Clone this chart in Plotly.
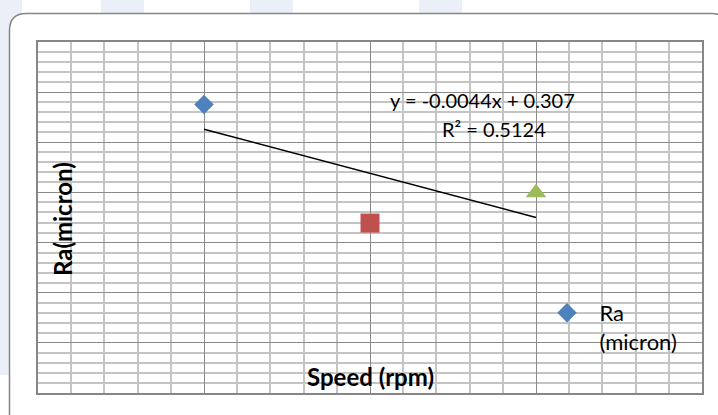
import numpy as np
import plotly.graph_objects as go

# ---- data ----
speed = [10, 20, 30]
ra = [0.28778, 0.16944, 0.19978]
point_symbols = ["diamond", "square", "triangle-up"]
point_colors = ["#4F81BD", "#C0504D", "#9BBB59"]
point_sizes = [15, 19, 18]
series_name = "Ra<br>(micron)"
x_title = "Speed (rpm)"
y_title = "Ra(micron)"

# trendline from a least-squares fit
slope, intercept = np.polyfit(speed, ra, 1)
pred = np.polyval([slope, intercept], speed)
r2 = 1 - np.sum((np.array(ra) - pred) ** 2) / np.sum((np.array(ra) - np.mean(ra)) ** 2)
eq_text = f"y = {slope:.4f}x + {intercept:.3f}"
r2_text = f"R² = {r2:.4f}"

# ---- geometry helpers (pixel -> paper) ----
W, H = 718, 415
ML, MR, MT, MB = 38, 16, 42, 22
PW, PH = W - ML - MR, H - MT - MB


def px(x):
    return (x - ML) / PW


def py(y):
    return (H - MB - y) / PH


fig = go.Figure()

for i in range(len(speed)):
    fig.add_trace(go.Scatter(
        x=[speed[i]], y=[ra[i]], mode="markers",
        name=series_name, showlegend=(i == 0), legendgroup="ra",
        marker=dict(symbol=point_symbols[i], color=point_colors[i],
                    size=point_sizes[i], line=dict(width=0)),
        hoverinfo="x+y",
    ))

xt = [min(speed), max(speed)]
fig.add_trace(go.Scatter(
    x=xt, y=list(np.polyval([slope, intercept], xt)), mode="lines",
    line=dict(color="black", width=1.5), showlegend=False, hoverinfo="skip",
))

# decorative background strips and rounded chart border
shapes = []
strip = "#EBF0F8"
for (a, b) in [(101, 144), (250, 293), (419, 462)]:
    shapes.append(dict(type="rect", xref="paper", yref="paper", layer="below",
                       x0=px(a), x1=px(b), y0=py(0), y1=py(14),
                       fillcolor=strip, line=dict(width=0)))
shapes.append(dict(type="rect", xref="paper", yref="paper", layer="below",
                   x0=px(0), x1=px(22), y0=py(0), y1=py(375),
                   fillcolor=strip, line=dict(width=0)))
x0, y0, x1, y1, r = 9.5, 13.5, 728, 432, 17
path = (f"M{px(x0)},{py(y0 + r)} Q{px(x0)},{py(y0)} {px(x0 + r)},{py(y0)} "
        f"L{px(x1 - r)},{py(y0)} Q{px(x1)},{py(y0)} {px(x1)},{py(y0 + r)} "
        f"L{px(x1)},{py(y1 - r)} Q{px(x1)},{py(y1)} {px(x1 - r)},{py(y1)} "
        f"L{px(x0 + r)},{py(y1)} Q{px(x0)},{py(y1)} {px(x0)},{py(y1 - r)} Z")
shapes.append(dict(type="path", xref="paper", yref="paper", layer="below",
                   path=path, fillcolor="white",
                   line=dict(color="#868686", width=1.5)))

font = "Lato, 'Open Sans', sans-serif"
annotations = [
    dict(text=eq_text, x=px(482), y=py(100), xref="paper", yref="paper",
         xanchor="center", yanchor="middle",
         showarrow=False, font=dict(family=font, size=20, color="black")),
    dict(text=r2_text, x=px(494), y=py(129), xref="paper", yref="paper",
         xanchor="center", yanchor="middle",
         showarrow=False, font=dict(family=font, size=20, color="black")),
    dict(text=f"<b>{y_title}</b>", x=px(62), y=py(219), xref="paper", yref="paper",
         xanchor="center", yanchor="middle",
         textangle=-90, showarrow=False, font=dict(family=font, size=24, color="black")),
    dict(text=f"<b>{x_title}</b>", x=px(370), y=py(376), xref="paper", yref="paper",
         xanchor="center", yanchor="middle",
         showarrow=False, font=dict(family=font, size=24, color="black")),
]

axis_common = dict(showticklabels=False, ticks="", zeroline=False,
                   showline=True, mirror=True, linecolor="#868686", linewidth=2,
                   showgrid=True, gridcolor="#8A8A8A", gridwidth=1)

fig.update_layout(
    width=W, height=H,
    margin=dict(l=ML, r=MR, t=MT, b=MB),
    paper_bgcolor="white", plot_bgcolor="rgba(0,0,0,0)",
    xaxis=dict(range=[0, 40], dtick=10, fixedrange=True,
               minor=dict(dtick=2, showgrid=True, gridcolor="#C4C4C4", gridwidth=1.5),
               **axis_common),
    yaxis=dict(range=[0, 0.35], dtick=0.05, fixedrange=True,
               minor=dict(dtick=0.01, showgrid=True, gridcolor="#C4C4C4", gridwidth=1.5),
               **axis_common),
    shapes=shapes,
    annotations=annotations,
    showlegend=True,
    legend=dict(x=px(534.5), y=py(292), xanchor="left", yanchor="top",
                xref="paper", yref="paper",
                bgcolor="rgba(0,0,0,0)", borderwidth=0, valign="top",
                itemwidth=55,
                font=dict(family=font, size=22, color="black")),
)

fig.write_html("out.html")
